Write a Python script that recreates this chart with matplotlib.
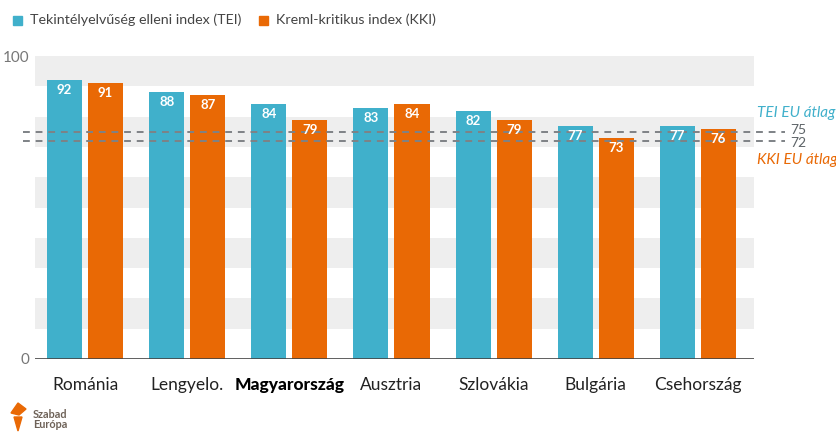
import matplotlib
matplotlib.use("Agg")
import matplotlib.pyplot as plt
import numpy as np
from matplotlib.patches import Rectangle, Polygon

plt.rcParams['font.family'] = ['Lato', 'DejaVu Sans']

# adatok
orszagok = ["Románia", "Lengyelo.", "Magyarország", "Ausztria", "Szlovákia", "Bulgária", "Csehország"]
tei = [92, 88, 84, 83, 82, 77, 77]
kki = [91, 87, 79, 84, 79, 73, 76]
tei_atlag = 75
kki_atlag = 72

TEAL = "#40B0CB"
ORANGE = "#E96905"
GRAY_BAND = "#EEEEEE"

fig = plt.figure(figsize=(8.37, 4.32), dpi=100)
W, H = 837, 432
ax = fig.add_axes([35 / W, 1 - 359 / H, (754 - 35) / W, (359 - 56) / H])

# sávok a háttérben
for lo in range(10, 100, 20):
    ax.axhspan(lo, lo + 10, color=GRAY_BAND, zorder=0, lw=0)

x = np.arange(len(orszagok))
w = 0.343
off = 0.201
b1 = ax.bar(x - off, tei, w, color=TEAL, zorder=2)
b2 = ax.bar(x + off, kki, w, color=ORANGE, zorder=2)

for bars in (b1, b2):
    for r in bars:
        v = r.get_height()
        ax.text(r.get_x() + r.get_width() / 2, v - 3.3, f"{v:.0f}", color="white",
                ha="center", va="center", fontsize=9.5, fontweight="bold", zorder=5)

ax.set_xlim(-0.49, 6.549)
ax.set_ylim(0, 100)

# EU átlag vonalak
tr = ax.get_yaxis_transform()
for val in (tei_atlag, kki_atlag):
    ax.plot([-0.017, 1.043], [val, val], transform=tr, color="#7E8286", lw=1.4,
            ls=(0, (3.5, 3)), clip_on=False, zorder=4)
ax.text(1.05, tei_atlag + 0.6, str(tei_atlag), transform=tr, color="#5E6468", fontsize=10,
        va="center", ha="left")
ax.text(1.05, kki_atlag - 0.6, str(kki_atlag), transform=tr, color="#5E6468", fontsize=10,
        va="center", ha="left")
ax.text(1.004, 81.3, "TEI EU átlag", transform=tr, color=TEAL, fontsize=11,
        style="italic", va="center", ha="left")
ax.text(1.004, 65.7, "KKI EU átlag", transform=tr, color=ORANGE, fontsize=11,
        style="italic", va="center", ha="left")

# tengelyek
for s in ax.spines.values():
    s.set_visible(False)
ax.axhline(0, color="#444444", lw=1.2, zorder=3)
ax.set_yticks([0, 100])
ax.set_yticklabels(["0", "100"], color="#777777", fontsize=11)
ax.tick_params(axis="y", length=0, pad=4)
ax.set_xticks(x)
ax.set_xticklabels(orszagok, fontsize=12.5, color="#222222")
ax.tick_params(axis="x", length=0, pad=13)
for lab in ax.get_xticklabels():
    if lab.get_text() == "Magyarország":
        lab.set_fontweight("black")
        lab.set_color("black")

# jelmagyarázat
fig.patches.append(Rectangle((13 / W, 1 - 25 / H), 9 / W, 9 / H, color=TEAL, transform=fig.transFigure))
fig.text(30 / W, 1 - 20 / H, "Tekintélyelvűség elleni index (TEI)", fontsize=10.3,
         color="#444444", va="center")
fig.patches.append(Rectangle((259 / W, 1 - 25 / H), 9 / W, 9 / H, color=ORANGE, transform=fig.transFigure))
fig.text(276 / W, 1 - 20 / H, "Kreml-kritikus index (KKI)", fontsize=10.3,
         color="#444444", va="center")

# logó
fig.patches.append(Polygon([(18 / W, 1 - 431 / H), (14 / W, 1 - 417 / H), (22 / W, 1 - 417 / H)],
                           closed=True, color=ORANGE, transform=fig.transFigure))
fig.patches.append(Polygon([(11 / W, 1 - 413 / H), (18 / W, 1 - 403 / H), (26 / W, 1 - 409 / H),
                            (19 / W, 1 - 415 / H)], closed=True, color=ORANGE, transform=fig.transFigure))
fig.text(33 / W, 1 - 414 / H, "Szabad", fontsize=7.8, fontweight="bold", color="#6E6258", va="center")
fig.text(33 / W, 1 - 425 / H, "Európa", fontsize=7.8, fontweight="bold", color="#6E6258", va="center")

fig.savefig("out.png", dpi=100)
